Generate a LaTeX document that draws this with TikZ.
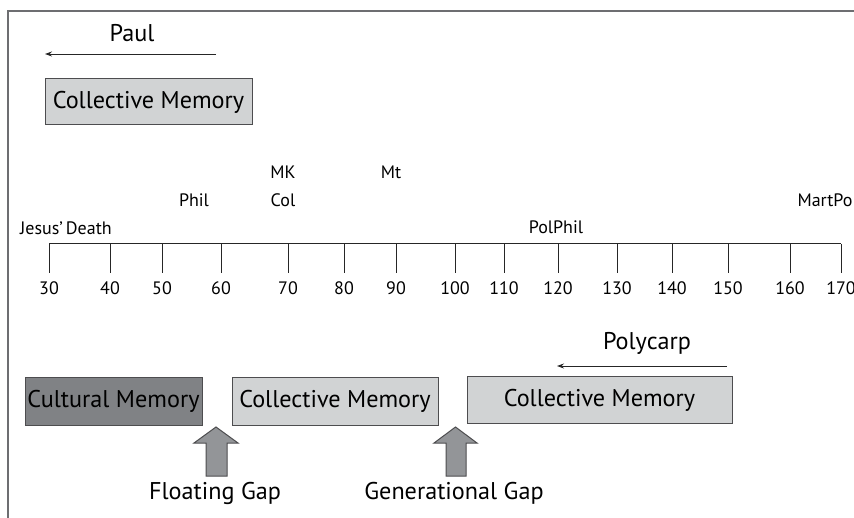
\documentclass[tikz,border=0pt]{standalone}
\usepackage{fontspec}
\setmainfont{PT Sans}
\usetikzlibrary{arrows.meta}
\definecolor{boxlight}{HTML}{D1D3D4}
\definecolor{boxdark}{HTML}{808285}
\definecolor{gaparrow}{HTML}{939598}
\definecolor{framegray}{HTML}{6D6E71}
\definecolor{edgegray}{HTML}{4D4D4F}
\tikzset{
  bigtext/.style={font=\fontsize{24.2}{28}\selectfont, text=black, inner sep=0pt},
  smalltext/.style={font=\fontsize{18}{21}\selectfont, text=black, inner sep=0pt},
  membox/.style={draw=edgegray, line width=1pt, bigtext},
  lightbox/.style={membox, fill=boxlight},
  darkbox/.style={membox, fill=boxdark},
  timeline/.style={draw=black!85, line width=1pt},
  periodarrow/.style={draw=black!85, line width=0.9pt, -{Stealth[length=7pt,width=5pt]}},
  gapshape/.style={draw=edgegray, fill=gaparrow, line width=1pt},
}
\begin{document}
\begin{tikzpicture}[x=1pt,y=-1pt]
\useasboundingbox (0,0) rectangle (854,518);
% frame
\draw[framegray, line width=1.6pt] (8,518) -- (8,11) -- (854,11);

% Paul
\node[bigtext] (paul) at (132,33) {Paul};
\coordinate (paulS) at (216,54);
\coordinate (paulE) at (45,54);
\draw[periodarrow] (paulS) -- (paulE);
\node[lightbox, minimum width=207pt, minimum height=46pt] (cm1) at (148.5,102) {Collective Memory};

% timeline labels above
\node[smalltext] (mk) at (283,172) {MK};
\node[smalltext] (mt) at (391,172) {Mt};
\node[smalltext] (phil) at (194,200) {Phil};
\node[smalltext] (col) at (283,200) {Col};
\node[smalltext] (martpo) at (825,200) {MartPo};
\node[smalltext] (jesus) at (66,228) {Jesus'\,Death};
\node[smalltext] (polphil) at (556,227) {PolPhil};

% timeline
\coordinate (tlA) at (49,244);
\coordinate (tlB) at (841,244);
\draw[timeline] (tlA) -- (tlB);
\foreach \x/\lab in {49/30,110/40,162/50,221/60,288/70,344/80,396/90,455/100,504/110,558/120,617/130,672/140,728/150,790/160,841/170}{
  \coordinate (t\lab) at (\x,244);
  \draw[timeline] (t\lab) -- ++(0,29);
  \node[smalltext] (l\lab) at (\x,288) {\lab};
}

% Polycarp
\node[bigtext] (polycarp) at (647,343) {Polycarp};
\coordinate (polyS) at (727,366);
\coordinate (polyE) at (557,366);
\draw[periodarrow] (polyS) -- (polyE);

% bottom boxes
\node[darkbox, minimum width=177pt, minimum height=47pt] (cult) at (113.5,401.5) {Cultural Memory};
\node[lightbox, minimum width=206pt, minimum height=47pt] (cm2) at (335,401.5) {Collective Memory};
\node[lightbox, minimum width=265pt, minimum height=46pt] (cm3) at (599.5,400) {Collective Memory};

% gap arrows
\draw[gapshape] (216,427) -- (238,443) -- (227,443) -- (227,476) -- (206,476) -- (206,443) -- (194,443) -- cycle;
\draw[gapshape] (455.5,427) -- (477,443) -- (466,443) -- (466,476) -- (446,476) -- (446,443) -- (434,443) -- cycle;
\node[bigtext] (floating) at (215,493) {Floating Gap};
\node[bigtext] (generational) at (454,493) {Generational Gap};
\end{tikzpicture}
\end{document}
